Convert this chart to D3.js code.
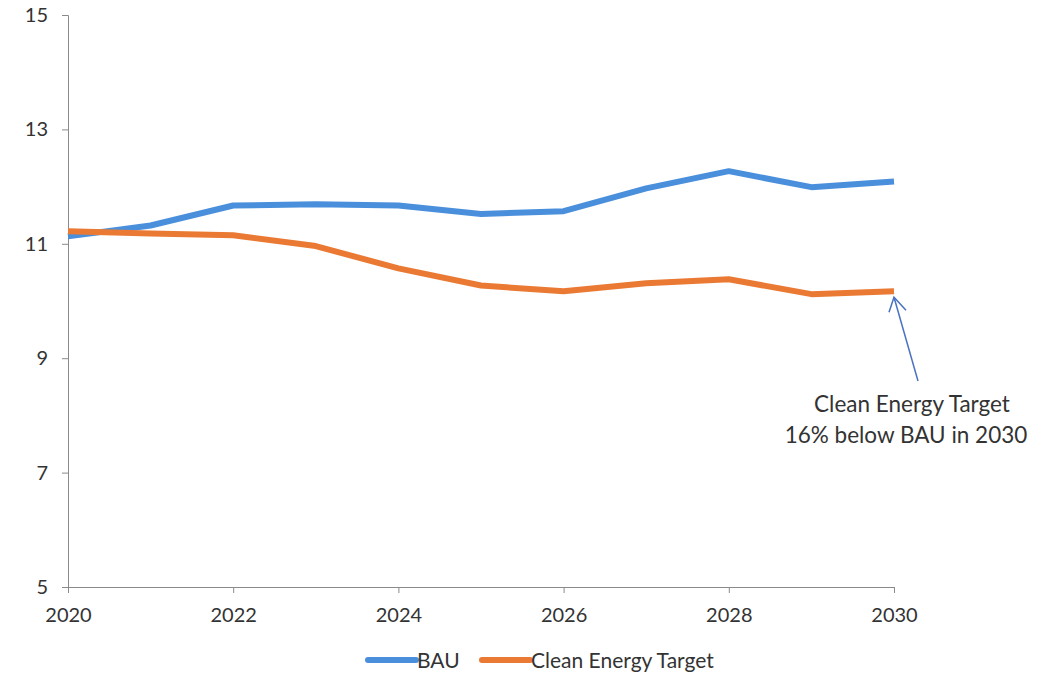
<!DOCTYPE html>
<html><head><meta charset="utf-8">
<script src="https://cdn.jsdelivr.net/npm/d3@7"></script>
<style>body{margin:0;background:#fff;} text{font-family:Lato, "Open Sans", sans-serif;}</style>
</head><body>
<svg id="c" width="1049" height="673"></svg>
<script>
const years = [2020,2021,2022,2023,2024,2025,2026,2027,2028,2029,2030];
const bau = [11.13,11.32,11.67,11.69,11.67,11.52,11.57,11.97,12.27,11.99,12.09];
const clean = [11.22,11.18,11.15,10.96,10.57,10.27,10.17,10.31,10.38,10.12,10.17];
const yTicks = [5,7,9,11,13,15];
const xTicks = [2020,2022,2024,2026,2028,2030];
const seriesNames = ["BAU","Clean Energy Target"];
const colors = ["#4A8FDB","#EA7A33"];

const svg = d3.select("#c");
const x = d3.scaleLinear().domain([2020,2030]).range([68,894]);
const y = d3.scaleLinear().domain([5,15]).range([587,15]);

const yAxis = svg.append("g").attr("transform","translate(68,0)")
  .call(d3.axisLeft(y).tickValues(yTicks).tickSize(6).tickPadding(14).tickFormat(d3.format("d")));
const xAxis = svg.append("g").attr("transform","translate(0,587)")
  .call(d3.axisBottom(x).tickValues(xTicks).tickSize(6).tickPadding(12).tickFormat(d3.format("d")));
[yAxis,xAxis].forEach(a=>{
  a.selectAll("path,line").attr("stroke","#8a8a8a").attr("stroke-width",1);
  a.selectAll("text").attr("font-size",20).attr("fill","#333").style("font-family","Lato, 'Open Sans', sans-serif");
});
xAxis.selectAll("text").attr("dy","0.85em");

const line = d3.line().x((d,i)=>x(years[i])).y(d=>y(d));
[bau,clean].forEach((s,k)=>{
  svg.append("path").datum(s).attr("d",line).attr("fill","none")
    .attr("stroke",colors[k]).attr("stroke-width",6).attr("stroke-linejoin","round");
});

// legend
const leg = [{x:368,tx:417},{x:482,tx:531}];
seriesNames.forEach((n,k)=>{
  svg.append("line").attr("x1",leg[k].x).attr("x2",leg[k].x+48).attr("y1",660).attr("y2",660)
    .attr("stroke",colors[k]).attr("stroke-width",6).attr("stroke-linecap","round");
  svg.append("text").attr("x",leg[k].tx).attr("y",668).attr("font-size",21).attr("fill","#333").text(n);
});

// annotation
const ax = x(2030), ay = y(clean[10]) + 6;
svg.append("line").attr("x1",918).attr("y1",381).attr("x2",ax).attr("y2",ay)
  .attr("stroke","#4A72C0").attr("stroke-width",1.5);
svg.append("path").attr("d",`M${ax-5},${ay+15} L${ax},${ay} L${ax+12},${ay+13}`)
  .attr("fill","none").attr("stroke","#4A72C0").attr("stroke-width",1.5);
const ann = svg.append("text").attr("text-anchor","middle").attr("font-size",22.5).attr("fill","#333");
ann.append("tspan").attr("x",912).attr("y",412).text("Clean Energy Target");
ann.append("tspan").attr("x",906).attr("y",443).text("16% below BAU in 2030");
</script>
</body></html>
